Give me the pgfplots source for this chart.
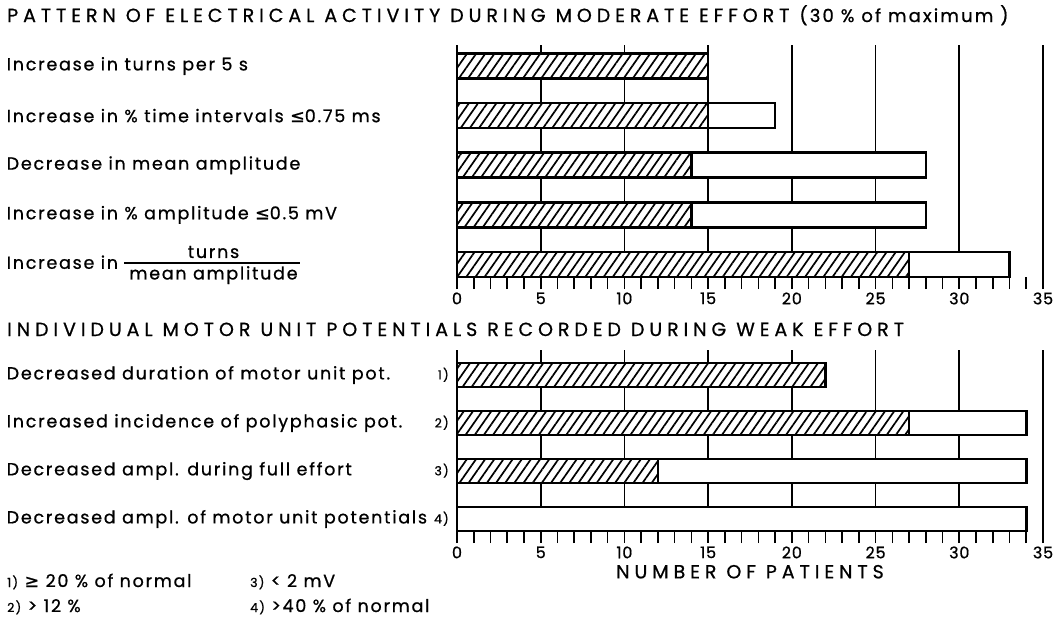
\documentclass[border=0pt]{standalone}
\usepackage{fontspec}
\setmainfont{Poppins}[FakeBold=0.8]
\newfontfamily\symf{DejaVu Sans}[FakeBold=0.8]
\usepackage{pgfplots}
\usepackage{pgfplotstable}
\pgfplotsset{compat=1.18}
\usetikzlibrary{patterns.meta}

\newcommand{\labf}{\fontsize{17.5}{21}\selectfont\addfontfeatures{LetterSpace=10}}
\newcommand{\titf}{\fontsize{19}{22}\selectfont\addfontfeatures{LetterSpace=26}}
\newcommand{\subtf}{\fontsize{18}{21}\selectfont\addfontfeatures{LetterSpace=12}}
\newcommand{\tickf}{\fontsize{16}{19}\selectfont\addfontfeatures{LetterSpace=5}}
\newcommand{\numf}{\fontsize{12.5}{14}\selectfont}
\newcommand{\sle}{{\symf ≤}}
\newcommand{\sge}{{\symf ≥}}

\pgfplotstableread{
y hatched rest
1 27 6
2 14 14
3 14 14
4 15 4
5 15 0
}\tabA
\pgfplotstableread{
y hatched rest
1 0 34
2 12 22
3 27 7
4 22 0
}\tabB

\pgfplotsset{
  panel/.style={
    scale only axis, width=586pt,
    xmin=0, xmax=35,
    xbar stacked,
    axis lines=left,
    axis line style={-, line width=2.5pt},
    x axis line style={draw=none},
    xtick={0,5,...,35},
    minor x tick num=4,
    tick align=outside,
    major tick length=12pt, minor tick length=12pt,
    xtick style={line width=1.6pt, black},
    minor tick style={line width=1.6pt, black},
    ytick style={draw=none},
    xmajorgrids,
    grid style={line width=1.6pt, black},
    /pgf/number format/assume math mode=true,
    xticklabel style={font=\tickf},
    yticklabel style={font=\labf, anchor=east, inner sep=0pt, xshift=4pt},
  },
  hatch/.style={draw=black, line width=2.5pt, preaction={fill=white},
    pattern={Lines[angle=55,distance=7.5pt,line width=1.7pt]}},
  blank/.style={draw=black, line width=2.5pt, fill=white},
}

\begin{document}
\begin{tikzpicture}[x=1pt,y=1pt]
\useasboundingbox (0,0) rectangle (1059,-616);

\node[anchor=base west, inner sep=0pt, font=\titf] at (7,-22)
  {PATTERN OF ELECTRICAL ACTIVITY DURING MODERATE EFFORT {\subtf(30 \% of maximum )}};

\begin{axis}[panel,
  at={(457pt,-45pt)}, anchor=north west,
  height=232pt, ymin=0.748, ymax=5.423, bar width=25pt,
  ytick={1,2,3,4,5},
  yticklabels={
    {\makebox[442pt][l]{Increase in \begin{tabular}{@{\hspace{5pt}}c@{\hspace{2pt}}}turns\\[-2pt]\noalign{\global\arrayrulewidth=1.5pt}\hline\noalign{\vskip 1pt}mean amplitude\end{tabular}}},
    {\makebox[442pt][l]{Increase in \% amplitude \sle0.5 mV}},
    {\makebox[442pt][l]{Decrease in mean amplitude}},
    {\makebox[442pt][l]{Increase in \% time intervals \sle0.75 ms}},
    {\makebox[442pt][l]{Increase in turns per 5 s}}
  },
]
\addplot[hatch] table[x=hatched, y=y] {\tabA};
\addplot[blank] table[x=rest, y=y] {\tabA};
\end{axis}

\node[anchor=base west, inner sep=0pt, font=\titf] at (7,-336)
  {INDIVIDUAL MOTOR UNIT POTENTIALS RECORDED DURING WEAK EFFORT};

\begin{axis}[panel,
  at={(457pt,-350pt)}, anchor=north west,
  height=181pt, ymin=0.75, ymax=4.521, bar width=24pt,
  ytick={1,2,3,4},
  yticklabels={
    {\makebox[442pt][l]{Decreased ampl. of motor unit potentials\hfill{\numf 4)}}},
    {\makebox[442pt][l]{Decreased ampl. during full effort\hfill{\numf 3)}}},
    {\makebox[442pt][l]{Increased incidence of polyphasic pot.\hfill{\numf 2)}}},
    {\makebox[442pt][l]{Decreased duration of motor unit pot.\hfill{\numf 1)}}}
  },
  xlabel={NUMBER OF PATIENTS},
  xlabel style={font=\titf, inner sep=0pt, yshift=-3pt},
]
\addplot[hatch] table[x=hatched, y=y] {\tabB};
\addplot[blank] table[x=rest, y=y] {\tabB};
\end{axis}

\node[anchor=base west, inner sep=0pt, font=\labf] at (7,-587) {{\numf 1)} \sge\ 20 \% of normal};
\node[anchor=base west, inner sep=0pt, font=\labf] at (250,-587) {{\numf 3)} < 2 mV};
\node[anchor=base west, inner sep=0pt, font=\labf] at (7,-612) {{\numf 2)} > 12 \%};
\node[anchor=base west, inner sep=0pt, font=\labf] at (250,-612) {{\numf 4)} >40 \% of normal};
\end{tikzpicture}
\end{document}
